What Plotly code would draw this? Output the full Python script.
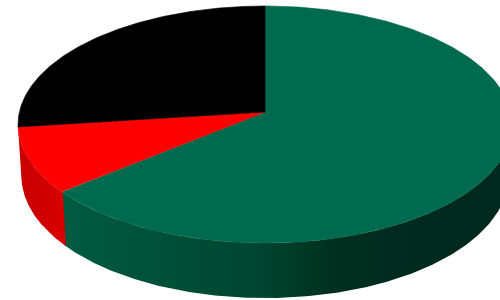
import numpy as np
import plotly.graph_objects as go

# ---- data ----
labels = ["Green", "Red", "Black"]
values = [64, 9, 27]
top_colors = ["#006A4E", "#FF0000", "#000000"]
side_scales = [
    [[0.0, "#005B41"], [0.44, "#00452F"], [0.6, "#00301F"], [0.75, "#002A1E"], [1.0, "#00281C"]],
    [[0.0, "#C60000"], [1.0, "#DA0000"]],
    [[0.0, "#0A0A0A"], [1.0, "#000000"]],
]

# ---- 3D pie camera parameters (pie radius = 1) ----
CX, CY = 265.0, 112.0      # screen position of the top-face centre
ALPHA = np.radians(28.5)   # camera elevation
DIST = 8.33                # camera distance
FOC = 2046.0               # focal length in pixels
H = 0.24                   # pie thickness
START = 90.0               # 12 o'clock, slices run clockwise


def proj(t_deg, z):
    t = np.radians(t_deg)
    X, Y = np.cos(t), np.sin(t)
    depth = DIST + Y * np.cos(ALPHA) - z * np.sin(ALPHA)
    up = Y * np.sin(ALPHA) + z * np.cos(ALPHA)
    return CX + FOC * X / depth, CY - FOC * up / depth


fig = go.Figure()

total = float(sum(values))
bounds = []
cum = 0.0
for v in values:
    t0 = START - 360 * cum / total
    cum += v
    t1 = START - 360 * cum / total
    bounds.append((t1, t0))

# side visible where outward normal faces the camera
s = np.degrees(np.arcsin(1.0 / (DIST * np.cos(ALPHA))))
vis_lo, vis_hi = -180 + s, -s

# sides first
for i, ((t1, t0), scale) in enumerate(zip(bounds, side_scales)):
    for shift in (-360, 0, 360):
        lo = max(t1, vis_lo + shift)
        hi = min(t0, vis_hi + shift)
        if hi - lo <= 0:
            continue
        ts = np.linspace(max(lo - 0.3, vis_lo + shift), min(hi + 0.3, vis_hi + shift), 200)
        xt, yt = proj(ts, 0.0)
        xb, yb = proj(ts, -H)
        px = np.concatenate([xt, xb[::-1]])
        py = np.concatenate([yt, yb[::-1]])
        if i == 0:
            g0, g1 = 62.0, 512.0
        else:
            g0, g1 = float(px.min()), float(px.max())
        fig.add_trace(go.Scatter(
            x=px, y=py, mode="lines", fill="toself",
            line=dict(width=0),
            fillgradient=dict(type="horizontal", colorscale=scale, start=g0, stop=g1),
            hoverinfo="skip", showlegend=False))

# top faces
for (t1, t0), col, lab, v in zip(bounds, top_colors, labels, values):
    ts = np.linspace(t0, t1, 300)
    xs, ys = proj(ts, 0.0)
    px = np.concatenate([[CX], xs, [CX]])
    py = np.concatenate([[CY], ys, [CY]])
    fig.add_trace(go.Scatter(
        x=px, y=py, mode="lines", fill="toself",
        line=dict(width=0.6, color=col), fillcolor=col,
        name=lab, text=f"{lab}: {v}", hoverinfo="text", showlegend=False))

fig.update_layout(
    width=500, height=300,
    margin=dict(l=0, r=0, t=0, b=0),
    paper_bgcolor="white", plot_bgcolor="white",
    xaxis=dict(range=[0, 500], visible=False, fixedrange=True),
    yaxis=dict(range=[300, 0], visible=False, fixedrange=True),
    showlegend=False,
)

fig.write_html("out.html", config={"displayModeBar": False},
               post_script="document.body.style.margin='0';")
